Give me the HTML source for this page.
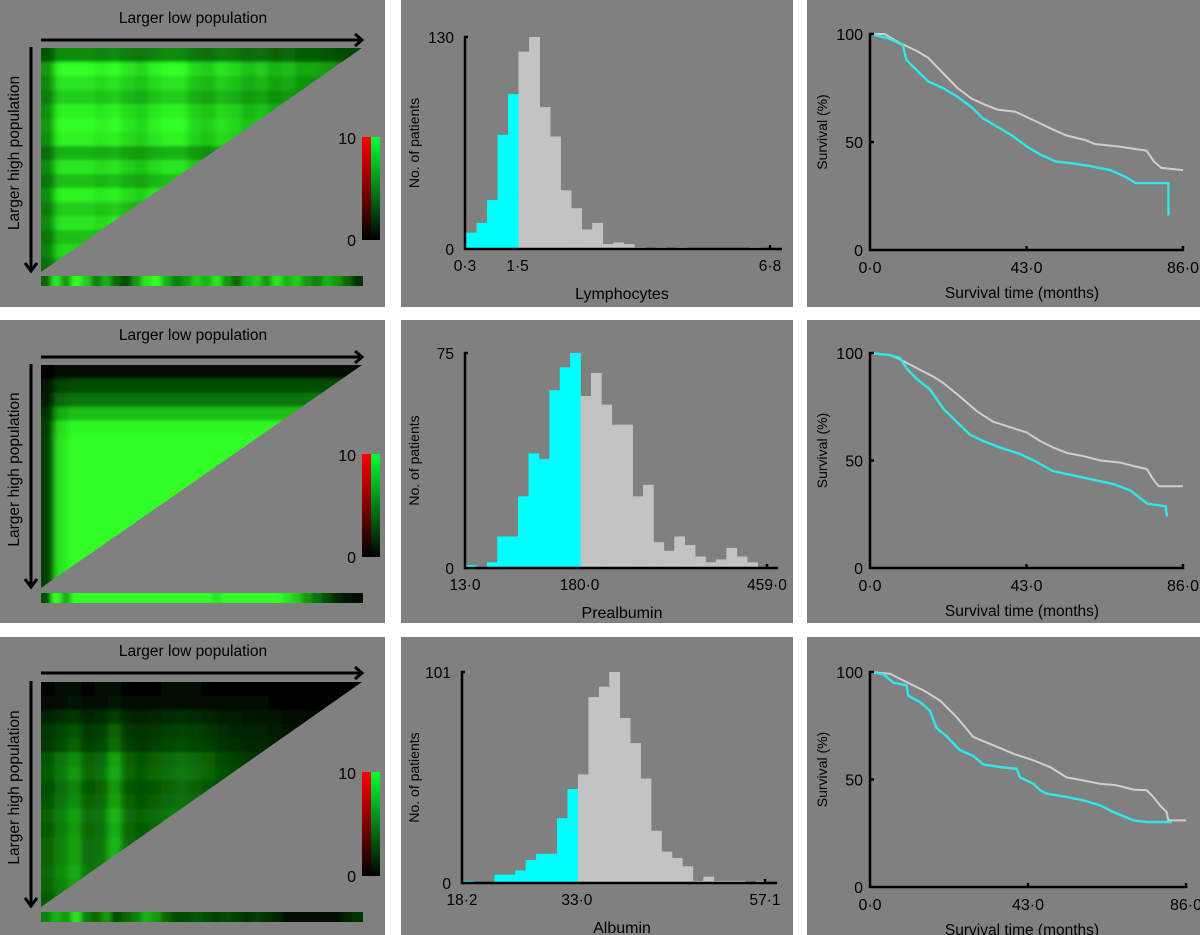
<!DOCTYPE html>
<html><head><meta charset="utf-8">
<style>
html,body{margin:0;padding:0;background:#fff;}
svg{display:block;font-family:"Liberation Sans",sans-serif;}
</style></head>
<body>
<svg id="fig" width="1200" height="935" viewBox="0 0 1200 935" xmlns="http://www.w3.org/2000/svg">
<defs>
<linearGradient id="cbRed" x1="0" y1="1" x2="0" y2="0"><stop offset="0" stop-color="#000"/><stop offset="1" stop-color="#ff0000"/></linearGradient>
<linearGradient id="cbGreen" x1="0" y1="1" x2="0" y2="0"><stop offset="0" stop-color="#000"/><stop offset="1" stop-color="#00ff33"/></linearGradient>
<filter id="soft" x="-5%" y="-5%" width="110%" height="110%"><feGaussianBlur stdDeviation="3.5 1.5"/></filter>
<filter id="softS" x="-5%" y="-50%" width="110%" height="200%"><feGaussianBlur stdDeviation="2.5 0"/></filter>
</defs>
</svg>
<script>
// ---------- Histogram data ----------
const histLymCounts = [10,16,30,70,95,121,130,87,69,36,25,12,16,3,4,3,1,0,1,0,1,0,0,0,0,0,0,1,0];
const histLymLowBins = 5;
const histLymTicks = ["0·3","1·5","6·8"];
const histPreCounts = [1,0,2,11,11,25,40,38,62,70,75,60,68,57,50,50,25,29,9,6,11,8,4,2,3,7,4,2,0];
const histPreLowBins = 11;
const histPreTicks = ["13·0","180·0","459·0"];
const histAlbCounts = [1,0,0,4,4,6,11,14,14,31,45,52,89,94,101,79,67,50,25,15,12,8,1,3,1,1,1,0,1];
const histAlbLowBins = 11;
const histAlbTicks = ["18·2","33·0","57·1"];
const histYMax = [130,75,101];

// ---------- Kaplan-Meier data (month, survival %) ----------
const kmTimeTicks = ["0·0","43·0","86·0"];
const kmSurvTicks = [0,50,100];
const km1HighT = [0,4,8,13,16,20,24,28,32,35,40,45,50,54,59,62,68,72,76,78,80,86];
const km1HighS = [100,100,96,92,89,82,75,70,67,65,64,60,56,53,51,49,48,47,46,41,38,37];
const km1LowT = [0,5,9,10,13,16,20,24,28,31,35,39,43,47,51,56,60,66,70,73,82,82];
const km1LowS = [100,98,95,88,83,78,75,71,66,61,57,53,48,44,41,40,39,37,34,31,31,16];
const km2HighT = [0,5.5,8.3,12.8,17.4,20.2,23.8,26.6,29.3,33.9,37.6,43.1,46.8,50.4,54.1,58.7,63.3,68.8,72.4,76.1,77.5,79.3,86];
const km2HighS = [100,99,97,93,89,86,81,77,73,68,66,63,59,56,53.5,52,50,49,47.4,46,42,38,38];
const km2LowT = [0,5.5,8.3,10,12.8,16.5,20.2,23.8,27.5,31.2,35.8,41.3,45,50.4,56,61.5,67,71.6,76.1,81.2,81.6];
const km2LowS = [100,99,97.7,93,88,83,74,68,62,59,56,53,50,45,43,41,39,36,30,28.7,24];
const km3HighT = [0,5.4,10,14.5,19,23.6,28.1,33.6,39,44.5,49,53.5,58,62.6,67.1,71.7,75.3,77.1,78.9,80.7,81.2,86];
const km3HighS = [100,99.2,95.3,91.5,86.8,79,69.8,65.9,62,58.9,55.8,51,49.6,48,47.3,45.3,45,41.9,38,34.9,31,31];
const km3LowT = [0,3.6,6.4,10,10.4,13.6,16.3,18.1,20.9,24.5,28.1,30.8,35.4,39.9,40.8,44.5,46.3,48.1,53.5,58,62.6,66.2,71.7,75.3,82.1];
const km3LowS = [100,99,95,93.8,89,86,82,74,70,63.6,61,57,55.8,55,51,48,45,43.4,41.9,40.3,38,34.9,31,30.2,30.2];

// ---------- Heatmap data (0..1 intensity factors) ----------
const hm1Cols = [0.6,1,1,1,0.95,1,0.9,0.85,0.95,1,1,0.85,0.8,0.9,0.85,0.75,0.8,0.7,0.75,0.65,0.65,0.6,0.55,0.5];
const hm1Rows = [0.55,1,0.9,0.8,0.95,1,0.95,0.7,0.9,0.75,0.95,0.8,0.9,0.75,0.85,0.7];
const hm1Strip = [0.4,0.9,0.6,1,0.8,0.5,0.7,0.4,0.3,0.6,0.9,1,0.7,0.5,0.6,0.8,0.7,0.9,0.6,0.4,0.7,0.8,0.6,0.9,0.7,0.8,0.6,0.5,0.7,0.6,0.4,0.2];
const hm2Cols = [0.25,0.9,1,1,1,1,1,1,1,1,1,1,1,1,1,1,1,1,1,1,1,1,1,1];
const hm2Rows = [0.05,0.3,0.45,0.75,0.97,1,1,1,1,1,1,1,1,1,1,1];
const hm2Strip = [0.3,1,0.7,1,1,1,1,1,1,1,1,1,1,1,1,1,1,0.9,1,1,1,1,1,1,0.9,0.8,0.6,0.45,0.3,0.15,0.08,0.04];
const hm3Cols = [0.45,0.6,0.75,0.5,0.55,0.85,0.5,0.45,0.5,0.55,0.6,0.55,0.5,0.4,0.35,0.3,0.3,0.25,0.2,0.15,0.1,0.1,0.05,0.05];
const hm3Rows = [0.05,0.1,0.3,0.45,0.5,0.75,0.8,0.7,0.75,0.85,0.8,0.85,0.85,0.9,0.85,0.8];
const hm3Strip = [0.5,0.7,0.6,0.9,0.5,0.4,0.6,0.3,0.4,0.5,0.7,0.6,0.4,0.3,0.3,0.35,0.3,0.25,0.3,0.25,0.2,0.25,0.2,0.15,0.05,0.05,0.05,0.05,0.05,0.05,0.15,0.2];

const NS = "http://www.w3.org/2000/svg";
const svg = document.getElementById("fig");
function mk(tag, attrs, parent, text){
  const e = document.createElementNS(NS, tag);
  for (const k in attrs) e.setAttribute(k, attrs[k]);
  if (text !== undefined) e.textContent = text;
  (parent || svg).appendChild(e);
  return e;
}
function gcol(v){ return `rgb(${Math.round(50*v*v)},${Math.round(255*v)},${Math.round(40*v*v)})`; }

const rowsY = [[0,307],[320,623],[637,935]];
const cols = [[0,385],[401,793],[807,1200]];
for (let r=0;r<3;r++) for (let c=0;c<3;c++){
  const p = mk("rect",{x:cols[c][0],y:rowsY[r][0],width:cols[c][1]-cols[c][0],height:rowsY[r][1]-rowsY[r][0],fill:"#808080"});
  
  
}

// ---------- Heatmaps ----------
function heatmap(idx, colsV, rowsV, strip, g){
  const gg = mk("g",{});
  
  
  const x0=41, x1=362, y0=g.top, y1=g.bottom;
  const cid = "tri"+idx;
  const cp = mk("clipPath",{id:cid}, gg);
  mk("polygon",{points:`${x0},${y0} ${x1},${y0} ${x0},${y1}`}, cp);
  const clipG = mk("g",{"clip-path":`url(#${cid})`}, gg);
  const cells = mk("g",{filter:"url(#soft)"}, clipG);
  const cw=(x1-x0)/colsV.length, rh=(y1-y0)/rowsV.length;
  for (let i=0;i<rowsV.length;i++) for (let j=0;j<colsV.length;j++){
    const v = colsV[j]*rowsV[i];
    const cell = mk("rect",{x:x0+j*cw-(j==0?6:0),y:y0+i*rh-(i==0?6:0),width:cw+0.6+(j==0?6:0)+(j==colsV.length-1?6:0),height:rh+0.6+(i==0?6:0)+(i==rowsV.length-1?6:0),fill:gcol(v)}, cells);
    
    
  }
  const scp = mk("clipPath",{id:"st"+idx}, gg);
  mk("rect",{x:x0,y:g.strip,width:x1-x0+1,height:10}, scp);
  const sg = mk("g",{"clip-path":`url(#st${idx})`}, gg);
  const sgb = mk("g",{filter:"url(#softS)"}, sg);
  const sw=(x1-x0)/strip.length;
  for (let j=0;j<strip.length;j++){
    const s = mk("rect",{x:x0+j*sw-(j==0?5:0),y:g.strip-3,width:sw+0.5+(j==0||j==strip.length-1?5:0),height:16,fill:gcol(strip[j])}, sgb);
    
    
  }
  const ha = mk("g",{}, gg);
  
  
  mk("line",{x1:x0,y1:g.arrow,x2:x1-1,y2:g.arrow,stroke:"#000","stroke-width":3}, ha);
  mk("polyline",{points:`${x1-7},${g.arrow-6} ${x1},${g.arrow} ${x1-7},${g.arrow+6}`,fill:"none",stroke:"#000","stroke-width":3}, ha);
  const va = mk("g",{}, gg);
  
  
  mk("line",{x1:31,y1:y0-1,x2:31,y2:y1-2,stroke:"#000","stroke-width":3}, va);
  mk("polyline",{points:`${25},${y1-9} 31,${y1-1} 37,${y1-9}`,fill:"none",stroke:"#000","stroke-width":3}, va);
  const t1 = mk("text",{x:193,y:g.arrow-17,"text-anchor":"middle","font-size":15.5,fill:"#000"}, gg, "Larger low population");
  
  
  const cy=(y0+y1)/2-7;
  const t2 = mk("text",{x:19,y:cy,"text-anchor":"middle","font-size":15.5,fill:"#000",transform:`rotate(-90 19 ${cy})`}, gg, "Larger high population");
  
  
  const cb = mk("g",{}, gg);
  
  
  mk("rect",{x:362,y:g.cbTop,width:9,height:g.cbBot-g.cbTop,fill:"url(#cbRed)"}, cb);
  mk("rect",{x:371,y:g.cbTop,width:9,height:g.cbBot-g.cbTop,fill:"url(#cbGreen)"}, cb);
  const l10 = mk("text",{x:356,y:g.cbTop+7,"text-anchor":"end","font-size":16,fill:"#000"}, cb, "10");
  
  
  const l0 = mk("text",{x:356,y:g.cbBot+6,"text-anchor":"end","font-size":16,fill:"#000"}, cb, "0");
  
  
}
heatmap(1, hm1Cols, hm1Rows, hm1Strip, {top:48,bottom:272,strip:276,arrow:40,cbTop:137,cbBot:240});
heatmap(2, hm2Cols, hm2Rows, hm2Strip, {top:365,bottom:588,strip:593,arrow:357,cbTop:454,cbBot:557});
heatmap(3, hm3Cols, hm3Rows, hm3Strip, {top:682,bottom:907,strip:912,arrow:673,cbTop:772,cbBot:876});

// ---------- Histograms ----------
function histogram(idx, counts, lowBins, ticks, yMax, title, g){
  const gg = mk("g",{});
  
  
  const bw = (g.tickEnd - g.x0)/counts.length;
  const ys = v => g.y0 - (v/yMax)*(g.y0-g.yTop);
  counts.forEach((c,i)=>{
    if (c<=0) return;
    const b = mk("rect",{x:g.x0+1+i*bw,y:ys(c),width:bw+0.3,height:g.y0-ys(c),fill:i<lowBins?"#00ffff":"#c3c3c3"}, gg);
    
    
  });
  const ax = mk("path",{d:`M${g.x0+3},${g.yTop} H${g.x0} V${g.y0} H${g.xEnd} M${g.tickEnd},${g.y0} v-4`,fill:"none",stroke:"#000","stroke-width":2.5}, gg);
  
  
  const ty = mk("text",{x:g.x0-11,y:g.yTop+6,"text-anchor":"end","font-size":15.5,fill:"#000"}, gg, String(yMax));
  
  
  const t0 = mk("text",{x:g.x0-11,y:g.y0+6,"text-anchor":"end","font-size":15.5,fill:"#000"}, gg, "0");
  
  
  const splitX = g.x0 + lowBins*bw;
  [[g.x0,ticks[0]],[splitX,ticks[1]],[g.tickEnd,ticks[2]]].forEach(([x,t])=>{
    const e = mk("text",{x:x,y:g.y0+22,"text-anchor":"middle","font-size":15.5,fill:"#000"}, gg, t);
    
    
  });
  const xt = mk("text",{x:622,y:g.y0+50,"text-anchor":"middle","font-size":16,fill:"#000"}, gg, title);
  
  
  const cy=(g.y0+g.yTop)/2;
  const yt = mk("text",{x:419,y:cy,"text-anchor":"middle","font-size":14,fill:"#000",transform:`rotate(-90 419 ${cy})`}, gg, "No. of patients");
  
  
}
histogram(1, histLymCounts, histLymLowBins, histLymTicks, histYMax[0], "Lymphocytes", {x0:465,xEnd:782,tickEnd:770,y0:249,yTop:37});
histogram(2, histPreCounts, histPreLowBins, histPreTicks, histYMax[1], "Prealbumin", {x0:465,xEnd:778,tickEnd:767,y0:568,yTop:353});
histogram(3, histAlbCounts, histAlbLowBins, histAlbTicks, histYMax[2], "Albumin", {x0:462,xEnd:777,tickEnd:765,y0:883,yTop:672});

// ---------- Kaplan-Meier ----------
function km(idx, hT, hS, lT, lS, g){
  const gg = mk("g",{});
  
  
  const xs = t => g.x0 + t/86*(g.x1-g.x0);
  const ys = s => g.y0 - s/100*(g.y0-g.yTop);
  function line(T,S){
    let d = `M${xs(T[0])},${ys(S[0])}`;
    for (let i=1;i<T.length;i++) d += ` L${xs(T[i])},${ys(S[i])}`;
    return d;
  }
  const hp = mk("path",{d:line(hT,hS),fill:"none",stroke:"#cfcfcf","stroke-width":2,"stroke-linejoin":"round"}, gg);
  
  
  const lp = mk("path",{d:line(lT,lS),fill:"none",stroke:"#2ee8ea","stroke-width":2.4,"stroke-linejoin":"round"}, gg);
  
  
  const xm = xs(43);
  const ax = mk("path",{d:`M${g.x0+4},${g.yTop} H${g.x0} V${g.y0} H${g.x1} v-4 M${xm},${g.y0} v-4 M${g.x0},${ys(50)} h4`,fill:"none",stroke:"#000","stroke-width":2.5}, gg);
  
  
  kmSurvTicks.forEach(v=>{
    const e = mk("text",{x:g.x0-7,y:ys(v)+6,"text-anchor":"end","font-size":16,fill:"#000"}, gg, String(v));
    
    
  });
  [0,43,86].forEach((t,i)=>{
    const e = mk("text",{x:xs(t),y:g.y0+23,"text-anchor":"middle","font-size":16,fill:"#000"}, gg, kmTimeTicks[i]);
    
    
  });
  const xt = mk("text",{x:1022,y:g.y0+48,"text-anchor":"middle","font-size":15.5,fill:"#000"}, gg, "Survival time (months)");
  
  
  const cy=(g.y0+g.yTop)/2-10;
  const yt = mk("text",{x:827,y:cy,"text-anchor":"middle","font-size":14,fill:"#000",transform:`rotate(-90 827 ${cy})`}, gg, "Survival (%)");
  
  
}
km(1, km1HighT, km1HighS, km1LowT, km1LowS, {x0:870,x1:1183,y0:250,yTop:34});
km(2, km2HighT, km2HighS, km2LowT, km2LowS, {x0:870,x1:1183,y0:568,yTop:353});
km(3, km3HighT, km3HighS, km3LowT, km3LowS, {x0:870,x1:1186,y0:887,yTop:672});
</script>
</body></html>
